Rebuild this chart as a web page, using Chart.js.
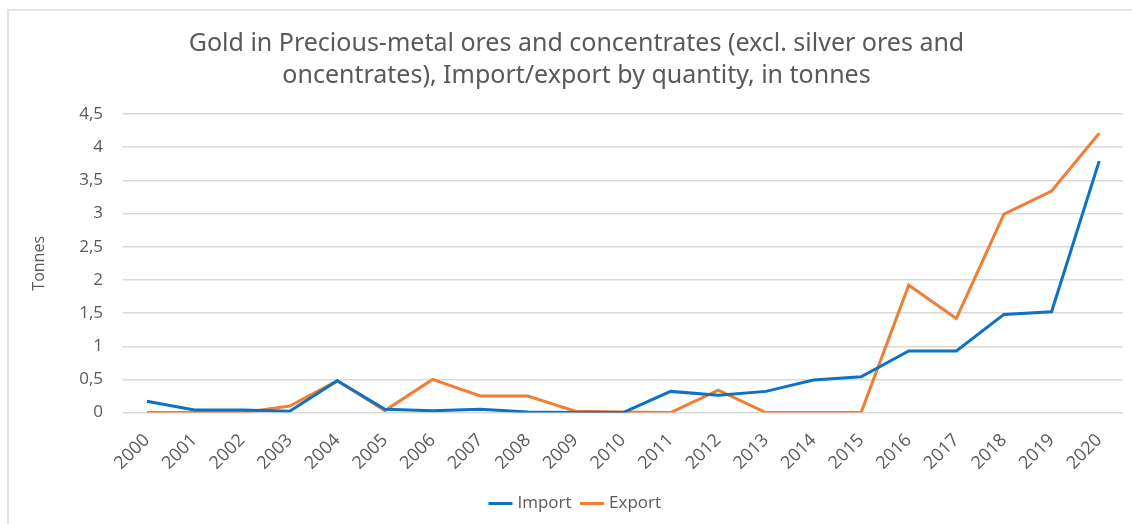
<!DOCTYPE html>
<html>
<head>
<meta charset="utf-8">
<script src="https://cdn.jsdelivr.net/npm/chart.js@4.4.0/dist/chart.umd.min.js"></script>
<style>
  html, body { margin: 0; padding: 0; background: #fff; }
  #wrap { width: 1132px; height: 524px; position: relative; }
</style>
</head>
<body>
<div id="wrap"><canvas id="chart"></canvas></div>
<script>
// data
var years = ['2000','2001','2002','2003','2004','2005','2006','2007','2008','2009','2010',
             '2011','2012','2013','2014','2015','2016','2017','2018','2019','2020'];
var importTonnes = [0.17,0.04,0.04,0.02,0.48,0.05,0.03,0.05,0.01,0.0,0.0,
                    0.32,0.26,0.32,0.49,0.54,0.93,0.93,1.48,1.52,3.79];
var exportTonnes = [0.0,0.0,0.0,0.10,0.48,0.03,0.50,0.25,0.25,0.02,0.01,
                    0.0,0.34,0.0,0.0,0.0,1.92,1.42,2.99,3.34,4.21];
var titleLines = ['Gold in Precious-metal ores and concentrates (excl. silver ores and',
                  'oncentrates), Import/export by quantity, in tonnes'];

// light frame on top and left like the screenshot
var framePlugin = {
  id: 'frame',
  beforeDraw: function(chart) {
    var ctx = chart.ctx;
    ctx.save();
    ctx.strokeStyle = '#e3e3e3';
    ctx.lineWidth = 2;
    ctx.beginPath();
    ctx.moveTo(8, 524);
    ctx.lineTo(8, 10);
    ctx.lineTo(1132, 10);
    ctx.stroke();
    ctx.restore();
  }
};

new Chart(document.getElementById('chart'), {
  type: 'line',
  data: {
    labels: years,
    datasets: [{
      label: 'Import',
      data: importTonnes,
      borderColor: '#0b72c4',
      backgroundColor: '#0b72c4',
      borderWidth: 3,
      pointRadius: 0,
      tension: 0,
      fill: false
    }, {
      label: 'Export',
      data: exportTonnes,
      borderColor: '#ee7f35',
      backgroundColor: '#ee7f35',
      borderWidth: 3,
      pointRadius: 0,
      tension: 0,
      fill: false
    }]
  },
  plugins: [framePlugin],
  options: {
    responsive: true,
    maintainAspectRatio: false,
    animation: false,
    layout: { padding: { left: 30, right: 9, top: 18, bottom: 2 } },
    plugins: {
      title: {
        display: true,
        text: titleLines,
        color: '#595959',
        font: { family: "'Noto Sans', sans-serif", size: 25, weight: 'normal', lineHeight: 1.28 },
        padding: { top: 10, bottom: 22 }
      },
      legend: {
        position: 'bottom',
        labels: {
          usePointStyle: true,
          pointStyle: 'line',
          boxWidth: 36,
          color: '#595959',
          font: { family: "'Open Sans', sans-serif", size: 17 },
          padding: 12
        }
      },
      tooltip: { enabled: false }
    },
    scales: {
      x: {
        offset: true,
        grid: { display: false },
        border: { display: false },
        ticks: {
          color: '#595959',
          font: { family: "'Open Sans', sans-serif", size: 18 },
          maxRotation: 45,
          minRotation: 45,
          autoSkip: false,
          padding: 9
        }
      },
      y: {
        min: 0,
        max: 4.5,
        grid: { color: '#d9d9d9', lineWidth: 1.5, drawTicks: false },
        border: { display: false },
        title: {
          display: true,
          text: 'Tonnes',
          color: '#595959',
          font: { family: "'Open Sans', sans-serif", size: 16 },
          padding: { top: 0, bottom: 10 }
        },
        ticks: {
          stepSize: 0.5,
          color: '#595959',
          font: { family: "'Open Sans', sans-serif", size: 17 },
          padding: 20,
          callback: function(v) { return String(v).replace('.', ','); }
        }
      }
    }
  }
});
</script>
</body>
</html>
